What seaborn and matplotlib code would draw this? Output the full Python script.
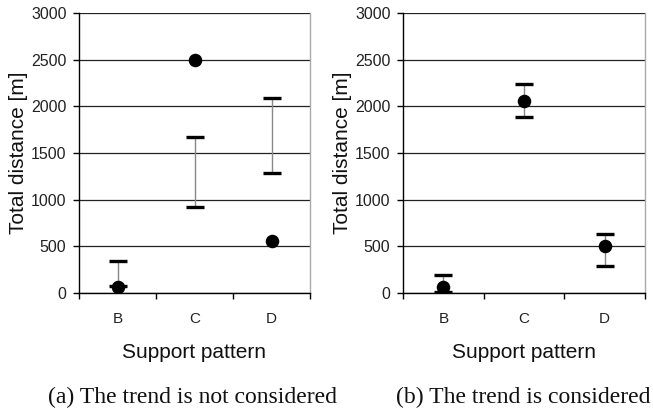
import numpy as np
import pandas as pd
import matplotlib
matplotlib.use("Agg")
import matplotlib.pyplot as plt
import seaborn as sns

patterns = ["B", "C", "D"]
# (a) trend not considered
a_points = [60, 2500, 560]
a_low = [70, 920, 1290]
a_high = [345, 1670, 2085]
# (b) trend considered
b_points = [60, 2055, 500]
b_low = [15, 1885, 285]
b_high = [190, 2240, 635]

yticks = [0, 500, 1000, 1500, 2000, 2500, 3000]
captions = ["(a) The trend is not considered", "(b) The trend is considered"]

sns.set_theme(style="white")
plt.rcParams["font.family"] = ["Liberation Sans", "DejaVu Sans"]

W, H = 653, 413
fig = plt.figure(figsize=(W / 100, H / 100), dpi=100)

panels = [
    (a_points, a_low, a_high, 79, 310, 19, captions[0], 193),
    (b_points, b_low, b_high, 403, 645, 343, captions[1], 523),
]

for pts, lo, hi, x0, x1, ylx, cap, capx in panels:
    top, bot = 13, 293
    ax = fig.add_axes([x0 / W, (H - bot) / H, (x1 - x0) / W, (bot - top) / H])
    df = pd.DataFrame({"pattern": patterns, "value": pts})
    lo_a = np.array(lo, dtype=float)
    hi_a = np.array(hi, dtype=float)
    mid = (lo_a + hi_a) / 2
    half = (hi_a - lo_a) / 2
    xs = np.arange(len(patterns))
    _, caplines, barcols = ax.errorbar(xs, mid, yerr=half, fmt="none",
                                       ecolor="#888888", elinewidth=1.0,
                                       capsize=6.5, capthick=2.4, zorder=3)
    for c in caplines:
        c.set_color("black")
        c.set_markeredgecolor("black")
        c.set_markerfacecolor("black")
    sns.scatterplot(data=df, x="pattern", y="value", ax=ax, color="black",
                    s=95, edgecolor="black", linewidth=0, zorder=4)
    ax.set_ylim(0, 3000)
    ax.set_xlim(-0.5, len(patterns) - 0.5)
    ax.set_yticks(yticks)
    ax.set_yticklabels([str(t) for t in yticks], fontsize=11.5, color="#222222")
    ax.yaxis.grid(True, color="#222222", linewidth=0.9)
    ax.set_axisbelow(True)
    # major ticks at category boundaries, labels at centres
    ax.set_xticks(np.arange(-0.5, len(patterns), 1.0))
    ax.set_xticklabels([])
    ax.set_xticks(xs, minor=True)
    ax.set_xticklabels(patterns, minor=True, fontsize=11, color="#222222")
    ax.tick_params(axis="x", which="major", direction="out", length=4,
                   width=1, color="black", bottom=True)
    ax.tick_params(axis="x", which="minor", length=0, pad=14)
    ax.tick_params(axis="y", direction="out", length=4, width=1,
                   color="black", left=True, pad=5)
    for side in ["left", "bottom"]:
        ax.spines[side].set_color("black")
        ax.spines[side].set_linewidth(1.0)
    ax.spines["top"].set_visible(False)
    ax.spines["right"].set_color("#aaaaaa")
    ax.spines["right"].set_linewidth(1.0)
    ax.set_xlabel("Support pattern", fontsize=15, color="#111111")
    ax.xaxis.set_label_coords(0.5, -(353 - bot) / (bot - top))
    ax.xaxis.label.set_va("center")
    ax.set_ylabel("Total distance [m]", fontsize=15, color="#111111")
    ax.yaxis.set_label_coords((ylx - x0) / (x1 - x0), 0.5)
    ax.yaxis.label.set_va("center")
    fig.text(capx / W, (H - 397) / H, cap,
             ha="center", va="center", fontsize=17,
             family=["Liberation Serif", "DejaVu Serif"], color="#111111")

fig.savefig("out.png", dpi=100)
